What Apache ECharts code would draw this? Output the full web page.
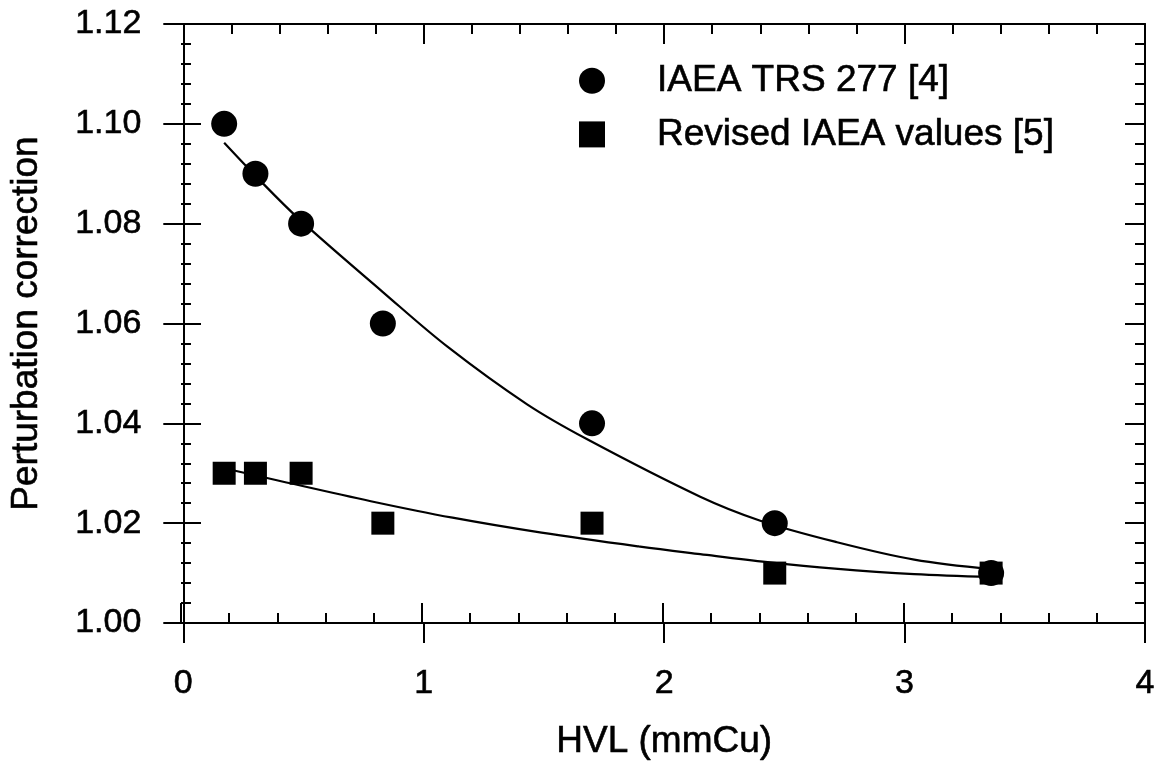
<!DOCTYPE html>
<html>
<head>
<meta charset="utf-8">
<title>Perturbation correction vs HVL</title>
<script src="https://cdn.jsdelivr.net/npm/echarts@6/dist/echarts.min.js"></script>
<style>
  html, body { margin: 0; padding: 0; background: #ffffff; }
  #chart { width: 1160px; height: 768px; }
</style>
</head>
<body>
<div id="chart"></div>
<script>
// Half-value layer (mmCu) of each beam quality
const hvl = [0.17, 0.30, 0.49, 0.83, 1.70, 2.46, 3.36];
// Perturbation correction factors
const trs277 = [1.10, 1.09, 1.08, 1.06, 1.04, 1.02, 1.01];
const revised = [1.03, 1.03, 1.03, 1.02, 1.02, 1.01, 1.01];

// Fitted curves, sampled along their length
const trsFitX = [0.17, 0.30, 0.48, 0.83, 1.10, 1.43, 1.68, 2.15, 2.40, 2.71, 3.04, 3.36];
const trsFitY = [1.0962, 1.0896, 1.0810, 1.0663, 1.0553, 1.0438, 1.0368, 1.0253, 1.0205, 1.0163, 1.0127, 1.0108];
const revFitX = [0.17, 0.38, 0.78, 1.12, 1.49, 1.90, 2.15, 2.43, 2.71, 3.04, 3.36];
const revFitY = [1.0310, 1.0287, 1.0244, 1.0211, 1.0181, 1.0153, 1.0138, 1.0122, 1.0109, 1.0098, 1.0092];

const xTicks = [0, 1, 2, 3, 4];
const yTicks = [1.00, 1.02, 1.04, 1.06, 1.08, 1.10, 1.12];

const seriesNames = ['IAEA TRS 277 [4]', 'Revised IAEA values [5]'];

const FONT = "'Liberation Sans', Arial, Helvetica, sans-serif";
const INK = '#000000';
// slight stroke to give the regular face a heavier print weight
const heavy = { textBorderColor: INK, textBorderWidth: 0.6 };

const pairs = (xs, ys) => xs.map((x, i) => [x, ys[i]]);

const gridRect = { left: 181, right: 15, top: 24, bottom: 145 };

const xRange = { min: xTicks[0], max: xTicks[xTicks.length - 1], interval: 1 };
const yRange = { min: yTicks[0], max: yTicks[yTicks.length - 1], interval: 0.02 };

function frameAxis(range, grid, position, opts) {
  return Object.assign({
    type: 'value',
    gridIndex: grid,
    position: position,
    min: range.min, max: range.max, interval: range.interval,
    axisLine: { show: true, onZero: false, lineStyle: { color: INK, width: 2 } },
    axisTick: { show: true, inside: true, length: 20, lineStyle: { color: INK, width: 2 } },
    minorTick: { show: true, splitNumber: 5, length: 10, lineStyle: { color: INK, width: 2 } },
    axisLabel: { show: false },
    splitLine: { show: false },
    minorSplitLine: { show: false }
  }, opts || {});
}

const chart = echarts.init(document.getElementById('chart'), null, { renderer: 'canvas' });

chart.setOption({
  backgroundColor: '#ffffff',
  animation: false,
  textStyle: { fontFamily: FONT, color: INK },
  grid: [
    Object.assign({}, gridRect),
    Object.assign({}, gridRect)
  ],
  legend: {
    data: seriesNames,
    orient: 'vertical',
    left: 574,
    top: 57,
    itemWidth: 26,
    itemHeight: 26,
    itemGap: 16,
    selectedMode: false,
    textStyle: Object.assign({ fontFamily: FONT, fontSize: 37, color: INK, padding: [0, 0, 0, 47] }, heavy)
  },
  xAxis: [
    // bottom axis with labels and outward halves of the major ticks
    frameAxis(xRange, 0, 'bottom', {
      name: 'HVL (mmCu)',
      nameLocation: 'middle',
      nameGap: 100,
      nameTextStyle: Object.assign({ fontFamily: FONT, fontSize: 37, color: INK }, heavy),
      axisTick: { show: true, inside: false, length: 20, lineStyle: { color: INK, width: 2 } },
      minorTick: { show: false },
      axisLabel: Object.assign({ show: true, margin: 44, fontFamily: FONT, fontSize: 34, color: INK }, heavy)
    }),
    frameAxis(xRange, 0, 'top'),
    frameAxis(xRange, 1, 'bottom', { axisLine: { show: false } })
  ],
  yAxis: [
    frameAxis(yRange, 0, 'left', {
      name: 'Perturbation correction',
      nameLocation: 'middle',
      nameGap: 138,
      nameTextStyle: Object.assign({ fontFamily: FONT, fontSize: 37, color: INK }, heavy),
      axisTick: { show: true, inside: false, length: 20, lineStyle: { color: INK, width: 2 } },
      minorTick: { show: false },
      axisLabel: Object.assign({
        show: true, margin: 42, fontFamily: FONT, fontSize: 34, color: INK,
        formatter: v => v.toFixed(2)
      }, heavy)
    }),
    frameAxis(yRange, 0, 'right'),
    frameAxis(yRange, 1, 'left', { axisLine: { show: false } })
  ],
  series: [
    {
      name: 'trs-fit',
      type: 'line',
      xAxisIndex: 0, yAxisIndex: 0,
      data: pairs(trsFitX, trsFitY),
      smooth: 0.35,
      symbol: 'none',
      lineStyle: { color: INK, width: 2.2 },
      z: 2
    },
    {
      name: 'revised-fit',
      type: 'line',
      xAxisIndex: 0, yAxisIndex: 0,
      data: pairs(revFitX, revFitY),
      smooth: 0.35,
      symbol: 'none',
      lineStyle: { color: INK, width: 2.2 },
      z: 2
    },
    {
      name: seriesNames[0],
      type: 'scatter',
      xAxisIndex: 0, yAxisIndex: 0,
      data: pairs(hvl, trs277),
      symbol: 'circle',
      symbolSize: 26,
      itemStyle: { color: INK, opacity: 1 },
      z: 5
    },
    {
      name: seriesNames[1],
      type: 'scatter',
      xAxisIndex: 0, yAxisIndex: 0,
      data: pairs(hvl, revised),
      symbol: 'rect',
      symbolSize: 23,
      itemStyle: { color: INK, opacity: 1 },
      z: 4
    }
  ]
});
</script>
</body>
</html>
